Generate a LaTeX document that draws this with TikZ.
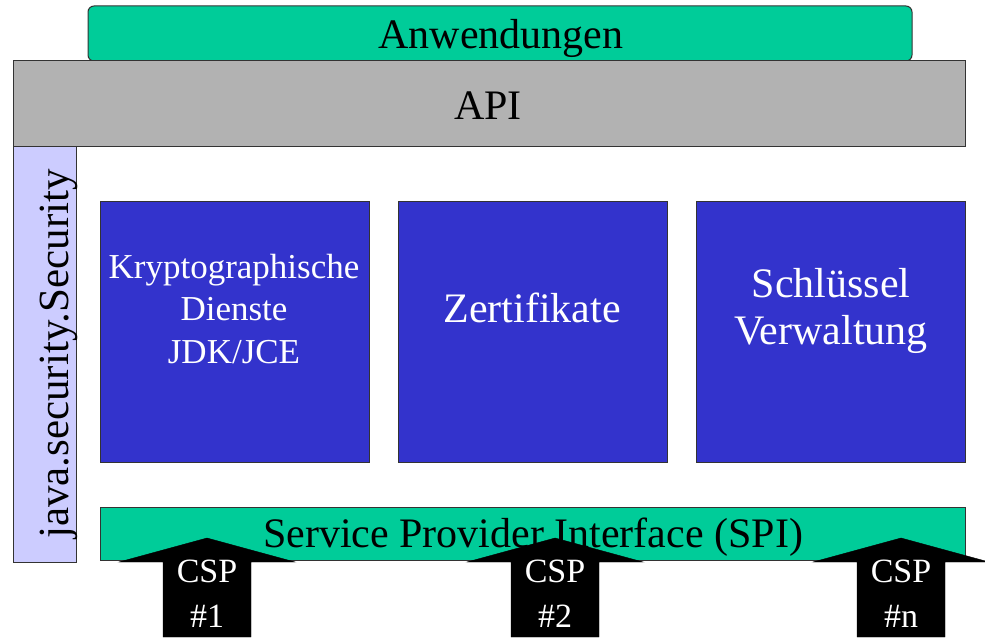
\documentclass[tikz,border=0pt]{standalone}
\usepackage{fontspec}
\setmainfont{Liberation Serif}
\usetikzlibrary{positioning}

\definecolor{spigreen}{HTML}{00CC99}
\definecolor{apigray}{HTML}{B2B2B2}
\definecolor{seclilac}{HTML}{CCCCFF}
\definecolor{dienstblue}{HTML}{3333CC}

\tikzset{
  layerbox/.style={draw=black!80, line width=1pt},
  bigtext/.style={font=\fontsize{42}{47}\selectfont, anchor=base},
  dienst/.style={font=\fontsize{42}{47}\selectfont, text=white, align=center, anchor=base},
  csptext/.style={font=\fontsize{34}{45}\selectfont, text=white, align=center, anchor=base},
  csparrow/.style={fill=black, draw=black}
}

\begin{document}
\begin{tikzpicture}[x=1pt, y=-1pt]
\path[use as bounding box] (0,0) rectangle (985,639);

% schichten
\draw[layerbox, fill=spigreen, rounded corners=6pt] (88,6) rectangle (912,61);
\draw[layerbox, fill=apigray] (13,61) rectangle (965,147);
\draw[layerbox, fill=seclilac] (13,147) rectangle (76,562);

\begin{scope}[layerbox, fill=dienstblue]
\draw[fill=dienstblue] (100,202) rectangle (369,462);
\draw[fill=dienstblue] (398,202) rectangle (667,462);
\draw[fill=dienstblue] (696,202) rectangle (965,462);
\end{scope}

\draw[layerbox, fill=spigreen] (100,507) rectangle (965,560);

\node[bigtext] (anw) at (501,49) {Anwendungen};
\node[bigtext] (api) at (488,120) {API};
\node[bigtext, font=\fontsize{43}{47}\selectfont, rotate=90] (sec) at (68,354) {java.security.Security};

\node[dienst, font=\fontsize{35}{42.5}\selectfont] (krypto) at (234,363) {Kryptographische\\Dienste\\JDK/JCE};
\node[dienst] (zert) at (532,322) {Zertifikate};
\node[dienst] (schl) at (831,344) {Schlüssel\\Verwaltung};

\node[bigtext] (spi) at (533,547) {Service Provider Interface (SPI)};

% provider pfeile
\foreach \cx/\nr in {207/1, 555/2, 901/n} {
  \fill[csparrow] (\cx-44,637) -- (\cx-44,562) -- (\cx-88,562) -- (\cx,538)
    -- (\cx+88,562) -- (\cx+44,562) -- (\cx+44,637) -- cycle;
  \node[csptext] (csp\nr) at (\cx,627) {CSP\\\#\nr};
}

\end{tikzpicture}
\end{document}
